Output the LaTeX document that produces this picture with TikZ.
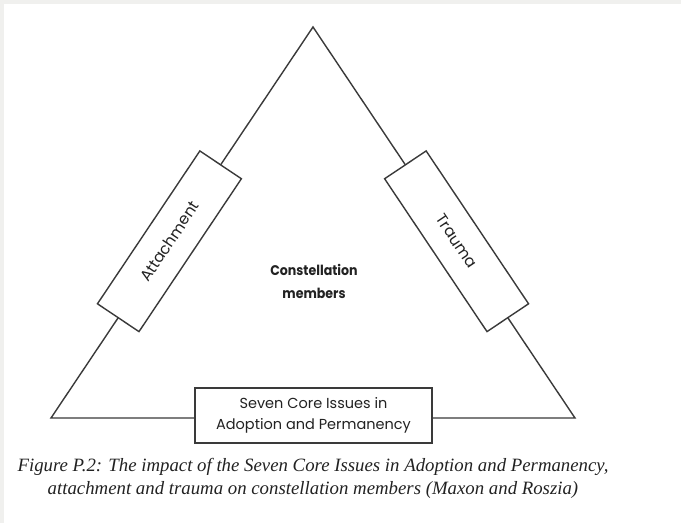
\documentclass[tikz,border=0pt]{standalone}
\usepackage{fontspec}
\setmainfont{Liberation Serif}
\newfontfamily\boxfont{Poppins}
\usetikzlibrary{calc}
\definecolor{edge}{HTML}{3A3A3A}
\definecolor{ink}{HTML}{222222}
\definecolor{frame}{HTML}{F0F0EE}
\tikzset{
  edgeline/.style={draw=edge, line width=1.4pt},
  issuebox/.style={draw=edge, line width=1.4pt, fill=white, inner sep=0pt,
    text=ink, font=\boxfont\fontsize{14.5}{21}\selectfont, align=center},
  sidebox/.style={issuebox, minimum width=184pt, minimum height=50pt,
    font=\boxfont\fontsize{15.5}{21}\selectfont},
  basebox/.style={issuebox, minimum width=237pt, minimum height=55pt},
  caption/.style={text=ink, font=\itshape\fontsize{18.8}{22.5}\selectfont, align=center}
}
\begin{document}
\begin{tikzpicture}[x=1pt, y=-1pt]
  % page and thin frame strip
  \fill[frame] (0,0) rectangle (681,523);
  \fill[white] (4,4) rectangle (681,523);
  \useasboundingbox (0,0) rectangle (681,523);

  % triangle corners
  \coordinate (apex) at (313,27);
  \coordinate (left) at (51,418);
  \coordinate (right) at (575,418);

  \draw[edgeline, line join=miter] (apex) -- (left) -- (right) -- cycle;

  % issue boxes sitting on the sides
  \node[sidebox, rotate=56.18] (attach) at ($(left)!0.452!(apex)$) {Attachment};
  \node[sidebox, rotate=-56.18] (trauma) at ($(right)!0.452!(apex)$) {Trauma};
  \node[basebox] (core) at (313.5,415.5) {Seven Core Issues in\\Adoption and Permanency};

  % centre label
  \node[text=ink, font=\boxfont\bfseries\fontsize{14}{23}\selectfont, align=center] (members) at (314,281)
    {\scalebox{0.9}[1]{Constellation}\\\scalebox{0.9}[1]{members}};

  % caption
  \node[caption] (cap) at (313,478.5) {Figure P.2: The impact of the Seven Core Issues in Adoption and Permanency,\\attachment and trauma on constellation members (Maxon and Roszia)};
\end{tikzpicture}
\end{document}
